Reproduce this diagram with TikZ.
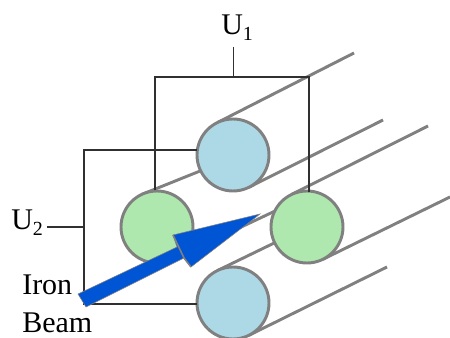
\documentclass[tikz,border=0pt]{standalone}
\usepackage{fontspec}
\usetikzlibrary{backgrounds}
\setmainfont{Liberation Serif}
\newcommand{\lbl}[2]{{\fontsize{22.5}{26}\selectfont #1\raisebox{-0.17em}{\fontsize{15}{18}\selectfont #2}}}
\definecolor{tubegray}{HTML}{808080}
\definecolor{wirecol}{HTML}{303030}
\definecolor{beamblue}{HTML}{0055D4}
\definecolor{cgreen}{HTML}{AEE8AE}
\definecolor{cblue}{HTML}{ADD8E6}
\tikzset{
  tube/.style={draw=tubegray,line width=2.2pt},
  wire/.style={draw=wirecol,line width=0.95pt},
  cyl/.style={circle,draw=tubegray,line width=2.2pt,minimum size=54pt,inner sep=0pt,outer sep=0pt},
  txt/.style={inner sep=0pt,anchor=base west,font=\fontsize{22.5}{26}\selectfont},
}
\begin{document}
\begin{tikzpicture}[x=0.75pt,y=-0.75pt]
\useasboundingbox (0,0) rectangle (450,338);
\clip (0,0) rectangle (450,338);
% free ends of the tubes
\coordinate (e1) at (354,53);
\coordinate (e2) at (383,120);
\coordinate (e3) at (428,126);
\coordinate (e4) at (450,197);
\coordinate (e5) at (387,267);
% cylinders
\node[cyl,fill=cblue] (top) at (233,155) {};
\node[cyl,fill=cgreen] (left) at (157,227) {};
\node[cyl,fill=cgreen] (right) at (307,227) {};
\node[cyl,fill=cblue] (bot) at (233,303) {};
% tubes
\begin{scope}[on background layer]
\draw[tube] (top.116) -- (e1);
\draw[tube] (top.-64) -- (e2);
\draw[tube] (left.116) -- (top.206);
\draw[tube] (left.-64) -- (right.154);
\draw[tube] (right.116) -- (e3);
\draw[tube] (right.-64) -- (e4);
\draw[tube] (bot.116) -- (right.206);
\draw[tube] (bot.-64) -- (e5);
\end{scope}
% labels
\node[txt] (u1) at (221,35) {\lbl{U}{1}};
\node[txt] (u2) at (11,230) {\lbl{U}{2}};
\node[txt] (iron) at (22,295) {Iron};
\node[txt] (beam) at (22,333) {Beam};
% wiring
\coordinate (tl) at (155,77);
\coordinate (tr) at (309,77);
\coordinate (tm) at (233.5,77);
\coordinate (s1) at (233.5,47);
\coordinate (ul) at (84,150);
\coordinate (ll) at (84,304);
\coordinate (um) at (84,227);
\coordinate (s2) at (47,227);
\draw[wire] (155,190.5) -- (tl) -- (tr) -- (309,192);
\draw[wire] (s1) -- (tm);
\draw[wire] (197,150) -- (ul) -- (ll) -- (197,304);
\draw[wire] (s2) -- (um);
% beam arrow
\fill[beamblue,draw=tubegray,line width=0.4pt]
  (78,294) -- (177,247) -- (173,235) -- (260,214) -- (191,267) -- (184,258) -- (86,307) -- cycle;
\draw[draw=tubegray,line width=1.2pt] (173,235) -- (184,258) -- (191,267);
\end{tikzpicture}
\end{document}
